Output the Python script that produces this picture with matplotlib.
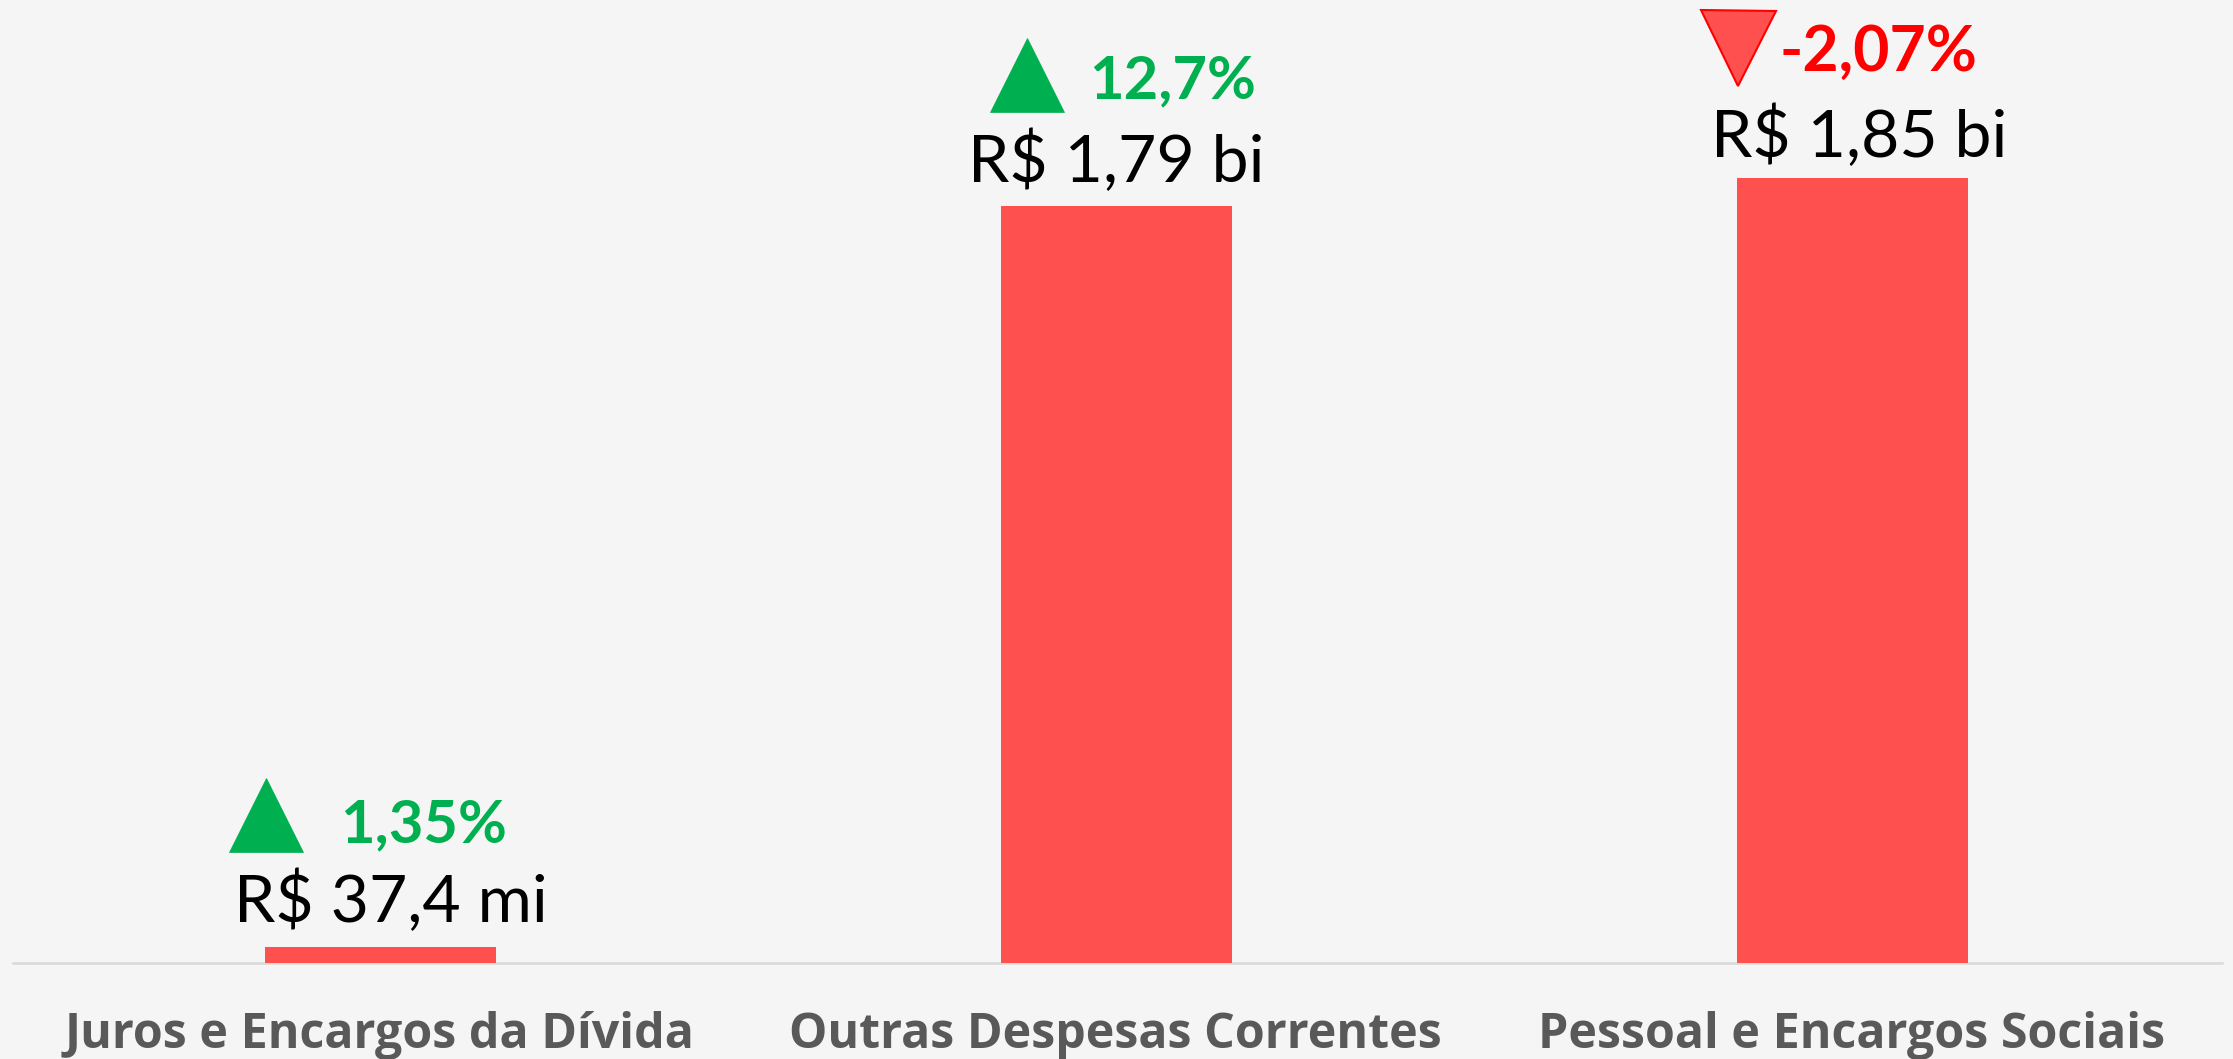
import matplotlib
matplotlib.use('Agg')
import matplotlib.pyplot as plt
from matplotlib.transforms import offset_copy

categories = ['Juros e Encargos da Dívida', 'Outras Despesas Correntes', 'Pessoal e Encargos Sociais']
values = [0.0374, 1.785, 1.85]  # R$ bi
value_labels = ['R$ 37,4 mi', 'R$ 1,79 bi', 'R$ 1,85 bi']
change_labels = ['1,35%', '12,7%', '-2,07%']
change_up = [True, True, False]

# offsets from the top of each bar, in pixels
value_off = [(10, 25), (0, 24), (7, 21)]
change_off = [(43, 105), (56, 107), (26, 107)]
arrow_off = [(-115, 132), (-90, 131), (-115, 130)]
change_size = [43, 43, 45]

GREEN = '#00b050'
RED = '#ff5050'
W, H = 2233, 1059
px_x = 736.0   # pixels per category
px_y = 424.3   # pixels per R$ bi
base_y = 963

fig = plt.figure(figsize=(W / 100, H / 100), dpi=100, facecolor='#f5f5f5')
ax = fig.add_axes([0, 0, 1, 1])
ax.set_facecolor('#f5f5f5')
ax.set_xlim(-380.5 / px_x, (W - 380.5) / px_x)
ax.set_ylim(-(H - base_y) / px_y, base_y / px_y)
ax.axis('off')

ax.bar(range(3), values, width=231 / px_x, color=RED, zorder=2)
ax.axhline(0, xmin=13 / W, xmax=2222 / W, color='#d9d9d9', lw=1.8, zorder=1)


def at(dx, dy):
    return offset_copy(ax.transData, fig=fig, x=dx, y=dy, units='dots')


for i, v in enumerate(values):
    ax.text(i, v, value_labels[i], transform=at(*value_off[i]), ha='center', va='baseline',
            family='Lato', fontsize=47.6, color='black')
    col = GREEN if change_up[i] else '#ff0000'
    ax.text(i, v, change_labels[i], transform=at(*change_off[i]), ha='center', va='baseline',
            family='Lato', fontsize=change_size[i], fontweight='bold', color=col)
    if change_up[i]:
        ax.plot([i], [v], marker='^', ms=53, mfc=GREEN, mec=GREEN, mew=0.5,
                transform=at(*arrow_off[i]), clip_on=False)
    else:
        ax.plot([i], [v], marker='v', ms=54, mfc=RED, mec='#ff0000', mew=1.5,
                transform=at(*arrow_off[i]), clip_on=False)
    ax.text(i, 0, categories[i], transform=at(-1, -85), ha='center', va='baseline',
            family='Open Sans', fontsize=34.8, fontweight='bold', color='#595959')

fig.savefig('out.png', dpi=100, facecolor=fig.get_facecolor())
